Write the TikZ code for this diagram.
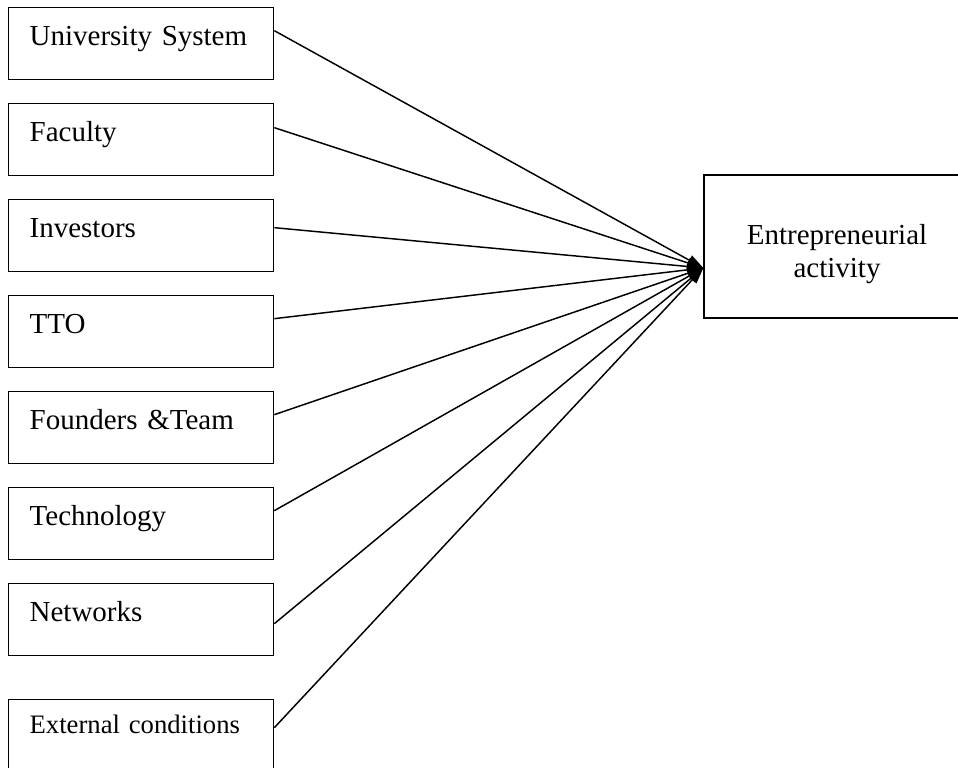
\documentclass[tikz,border=0pt]{standalone}
\usepackage{fontspec}
\setmainfont{Liberation Serif}
\usetikzlibrary{arrows.meta}
\begin{document}
\begin{tikzpicture}[x=0.75pt,y=-0.75pt,
  lbox/.style={draw, line width=1pt, anchor=north west,
    minimum width=198.75pt, minimum height=54pt,
    text width=167.25pt, inner xsep=15.75pt, inner ysep=0pt, align=left,
    font=\fontsize{21.75}{26}\selectfont, text height=15pt, text depth=12pt},
  rbox/.style={draw, line width=1pt, minimum width=199.5pt, minimum height=107.25pt, inner sep=0pt},
  conn/.style={line width=1.1pt, -{Triangle[length=12pt,width=8pt]}}]
\useasboundingbox (0,0) rectangle (958,768);
\clip (0,0) rectangle (958,768);
\node[lbox] (us) at (8,7) {University System};
\node[lbox] (fa) at (8,103) {Faculty};
\node[lbox] (inv) at (8,199) {Investors};
\node[lbox] (tto) at (8,295) {TTO};
\node[lbox] (ft) at (8,391) {Founders \&Team};
\node[lbox] (tech) at (8,487) {Technology};
\node[lbox] (net) at (8,583) {Networks};
\node[lbox, font=\fontsize{20}{24}\selectfont, text height=12pt, text depth=15pt] (ext) at (8,699) {External conditions};
\node[rbox] (ea) at (837,246.5) {};
\node[font=\fontsize{21.75}{24.75}\selectfont, align=center, inner sep=0pt] (eatxt) at (837,254.5) {Entrepreneurial\\activity};
\coordinate (tip) at ([yshift=-16.1pt]ea.west);
\draw[conn] ([yshift=9.75pt]us.east) -- (tip);
\draw[conn] ([yshift=9pt]fa.east) -- (tip);
\draw[conn] ([yshift=6pt]inv.east) -- (tip);
\draw[conn] ([yshift=9.75pt]tto.east) -- (tip);
\draw[conn] ([yshift=9.75pt]ft.east) -- (tip);
\draw[conn] ([yshift=9.75pt]tech.east) -- (tip);
\draw[conn] ([yshift=-3pt]net.east) -- (tip);
\draw[conn] ([yshift=6pt]ext.east) -- (tip);
\end{tikzpicture}
\end{document}
